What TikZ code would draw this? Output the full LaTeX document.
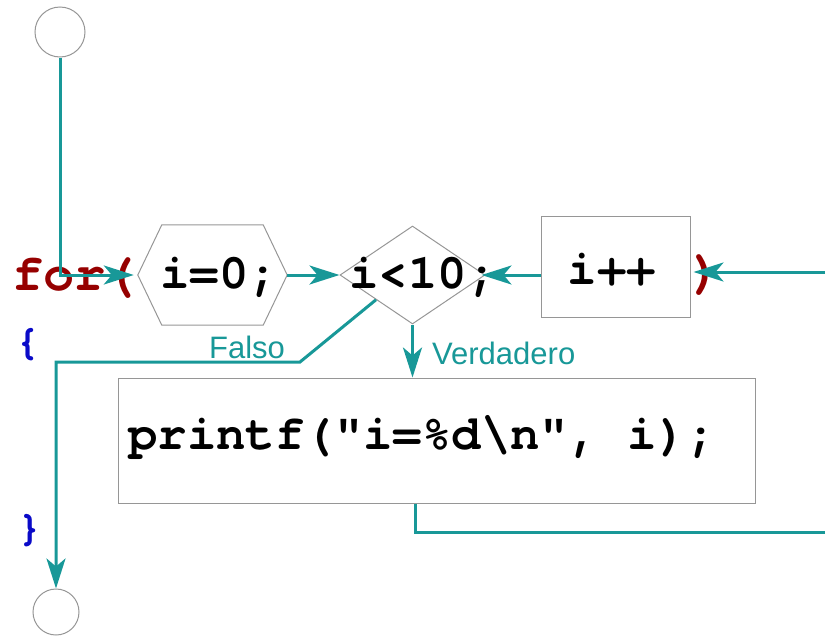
\documentclass[tikz,border=0pt]{standalone}
\usepackage{fontspec}
\setmainfont{Liberation Sans}
\setmonofont{TeX Gyre Cursor}
\usetikzlibrary{shapes.geometric,arrows.meta}
\definecolor{flow}{RGB}{24,152,152}
\definecolor{kw}{RGB}{150,0,0}
\definecolor{brace}{RGB}{10,10,200}
\definecolor{edge}{RGB}{150,150,150}
\tikzset{
  box/.style={draw=edge,line width=1pt},
  conn/.style={draw=flow,line width=3pt,-{Stealth[length=30pt,width=19pt,inset=8pt]}},
  plain/.style={draw=flow,line width=3pt},
  code/.style={font=\fontsize{49}{52}\selectfont\ttfamily\bfseries,inner sep=0pt},
  lbl/.style={font=\fontsize{31}{33}\selectfont,text=flow,inner sep=0pt},
}
\begin{document}
\begin{tikzpicture}[x=1pt,y=-1pt]
\useasboundingbox (0,0) rectangle (825,640);
% terminals
\node[box,circle,minimum size=50pt,inner sep=0pt] (start) at (60,32) {};
\node[box,circle,minimum size=46pt,inner sep=0pt] (end) at (56,612) {};
% for( text
\node[code,text=kw,font=\fontsize{52}{54}\selectfont\ttfamily\bfseries,anchor=west] (for) at (12,278) {for(};
\node[code,text=brace,font=\fontsize{42}{44}\selectfont\ttfamily\bfseries] (lb) at (28,345) {\{};
\node[code,text=brace,font=\fontsize{42}{44}\selectfont\ttfamily\bfseries] (rb) at (30,531) {\}};
% init hexagon
\node[minimum width=149pt,minimum height=100pt,inner sep=0pt] (init) at (212.5,275) {};
\draw[box] (init.west) -- ([xshift=24pt]init.north west) -- ([xshift=-24pt]init.north east)
  -- (init.east) -- ([xshift=-24pt]init.south east) -- ([xshift=24pt]init.south west) -- cycle;
\node[code] (inittxt) at (219,277) {i=0;};
% condition diamond
\node[box,diamond,minimum width=145pt,minimum height=98pt,inner sep=0pt] (cond) at (412.5,275) {};
\node[code] (condtxt) at (423,277) {i<10;};
% increment
\node[box,minimum width=149pt,minimum height=101pt,inner sep=0pt] (inc) at (615.5,266.5) {};
\node[code] (inctxt) at (612,270) {i++};
\node[code,text=kw,font=\fontsize{52}{54}\selectfont\ttfamily\bfseries] (rp) at (706,275) {)};
% body
\node[box,minimum width=637pt,minimum height=125pt,inner sep=0pt] (body) at (436.5,440.5) {};
\node[code,anchor=west] (bodytxt) at (128,437) {printf("i=\%d\textbackslash n", i);};
% labels
\node[lbl] (falso) at (247,347) {Falso};
\node[lbl,anchor=west] (verd) at (432,353) {Verdadero};
% coordinates
\coordinate (in) at (825,272);
\coordinate (out) at (825,532);
% connectors
\draw[conn,shorten >=4pt] (start.south) |- (init.west);
\draw[conn] (init.east) -- (cond.west);
\draw[conn,shorten >=-4pt] (inc.west |- cond.east) -- (cond.east);
\draw[conn,shorten >=3pt] (in) -- (in -| inc.east);
\draw[conn] (cond.south west) -- (300,362) -- (56,362) -- (end.north);
\draw[conn] (cond.south) -- (cond.south |- body.north);
\draw[plain] (body.south -| 415,0) -- (415,532) -- (out);
\end{tikzpicture}
\end{document}
